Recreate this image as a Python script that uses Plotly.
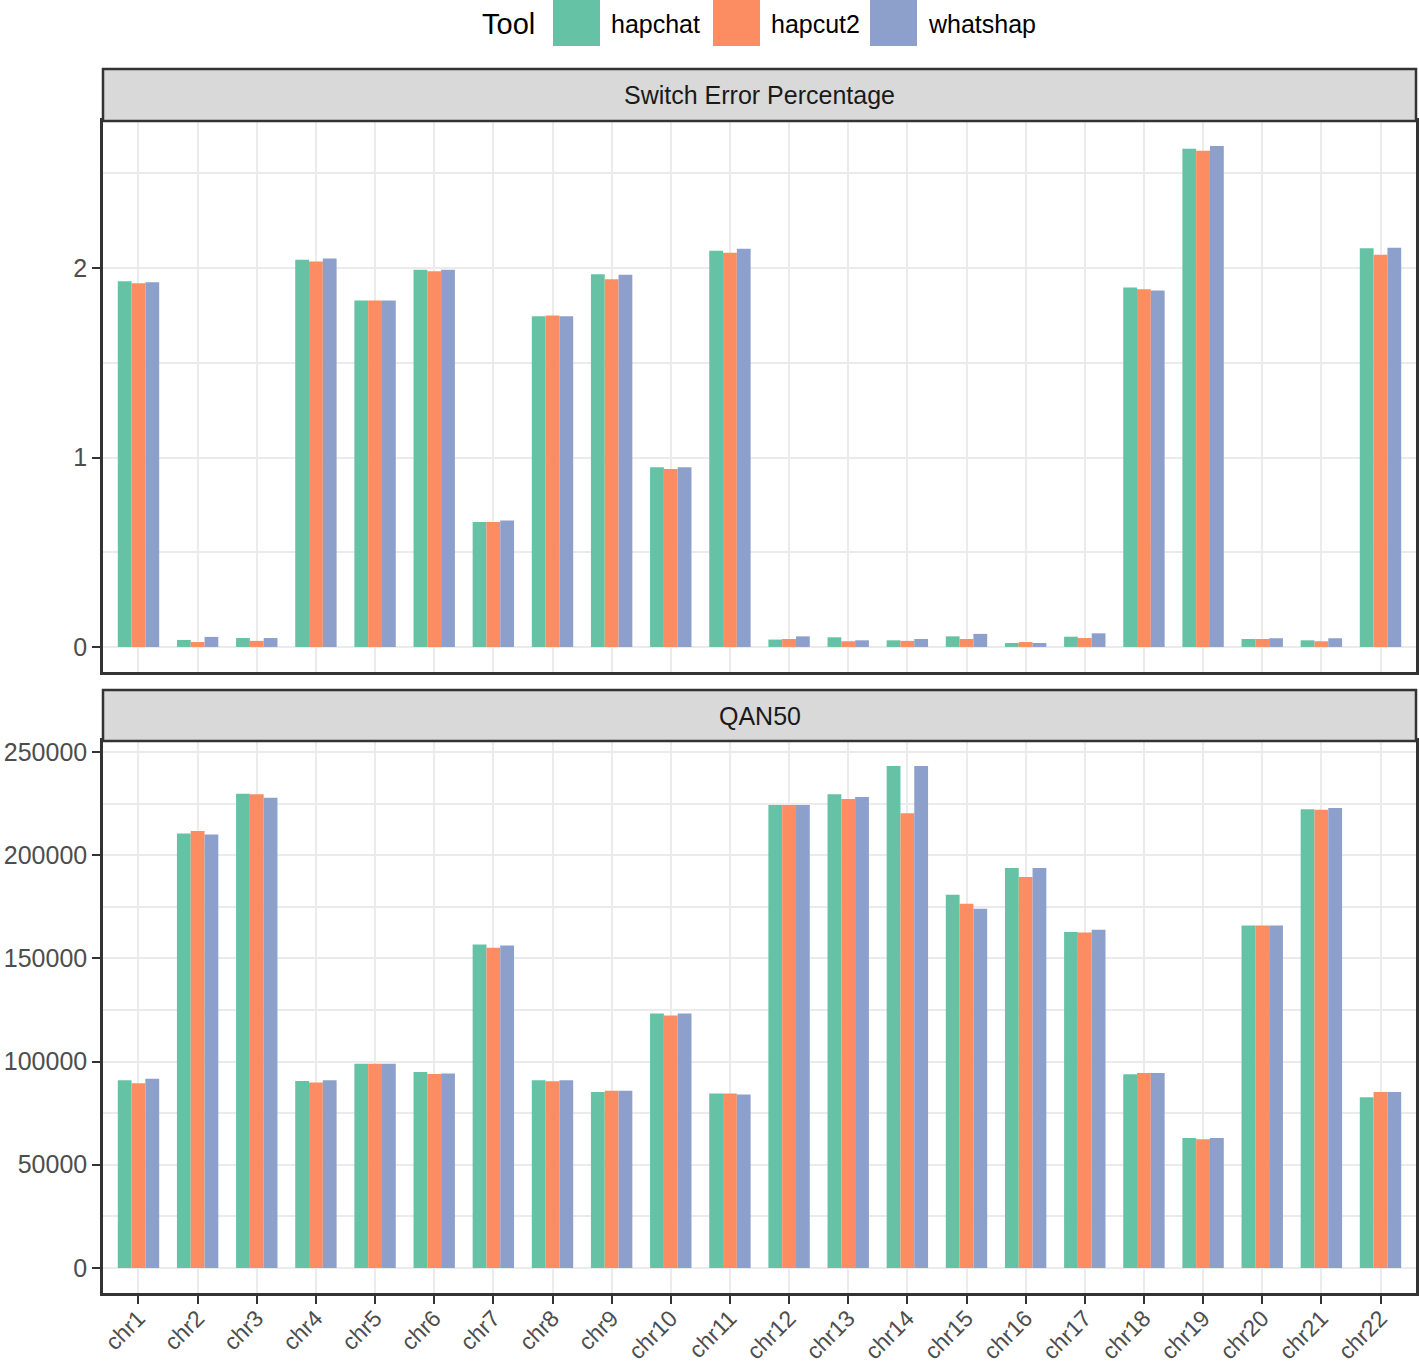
import plotly.graph_objects as go
from plotly.subplots import make_subplots

chromosomes = ["chr1", "chr2", "chr3", "chr4", "chr5", "chr6", "chr7", "chr8", "chr9", "chr10", "chr11",
               "chr12", "chr13", "chr14", "chr15", "chr16", "chr17", "chr18", "chr19", "chr20", "chr21", "chr22"]
tools = ["hapchat", "hapcut2", "whatshap"]
tool_colors = ["#66C2A5", "#FC8D62", "#8DA0CB"]

switch_hapchat = [1.930, 0.037, 0.047, 2.044, 1.829, 1.991, 0.659, 1.745, 1.967, 0.948, 2.091,
                  0.039, 0.051, 0.035, 0.056, 0.021, 0.054, 1.897, 2.630, 0.042, 0.035, 2.104]
switch_hapcut2 = [1.920, 0.026, 0.032, 2.034, 1.829, 1.983, 0.659, 1.750, 1.941, 0.939, 2.081,
                  0.042, 0.030, 0.032, 0.042, 0.026, 0.047, 1.888, 2.619, 0.042, 0.030, 2.070]
switch_whatshap = [1.925, 0.053, 0.047, 2.051, 1.829, 1.991, 0.668, 1.745, 1.965, 0.948, 2.102,
                   0.056, 0.035, 0.042, 0.069, 0.021, 0.072, 1.881, 2.644, 0.046, 0.046, 2.107]

qan50_hapchat = [91000, 210500, 229800, 90600, 99000, 94900, 156700, 91000, 85300, 123300, 84500,
                 224400, 229500, 243200, 180900, 193800, 162800, 93900, 62900, 166000, 222300, 82700]
qan50_hapcut2 = [89500, 211700, 229500, 89800, 99000, 94000, 155200, 90500, 85800, 122300, 84500,
                 224400, 227300, 220400, 176500, 189400, 162500, 94400, 62400, 166000, 222100, 85300]
qan50_whatshap = [91700, 210000, 227800, 91000, 99000, 94200, 156200, 91000, 85800, 123300, 84000,
                  224400, 228200, 243200, 174100, 193800, 163900, 94400, 62900, 166000, 222900, 85300]

panel_titles = ["Switch Error Percentage", "QAN50"]
switch_ticks = [0, 1, 2]
qan50_ticks = [0, 50000, 100000, 150000, 200000, 250000]

W, H = 1419, 1366
ML, MR, MT, MB = 103, 3, 69, 73
PW = W - ML - MR
PH = H - MT - MB


def xp(px):
    return (px - ML) / PW


def yp(py):
    return (H - MB - py) / PH


FONT = "Liberation Sans, Arial, sans-serif"
DARK = "#333333"
GRID = "#EBEBEB"

fig = make_subplots(rows=2, cols=1, vertical_spacing=0.02)

series_top = [switch_hapchat, switch_hapcut2, switch_whatshap]
series_bot = [qan50_hapchat, qan50_hapcut2, qan50_whatshap]
for name, col, top, bot in zip(tools, tool_colors, series_top, series_bot):
    fig.add_trace(go.Bar(x=chromosomes, y=top, name=name, marker=dict(color=col, line=dict(width=0)),
                         showlegend=False), row=1, col=1)
    fig.add_trace(go.Bar(x=chromosomes, y=bot, name=name, marker=dict(color=col, line=dict(width=0)),
                         showlegend=False), row=2, col=1)

top_max = max(max(s) for s in series_top)
bot_max = max(max(s) for s in series_bot)

top_dom = [yp(672), yp(121)]
bot_dom = [0, yp(741)]

common_x = dict(type="category", categoryorder="array", categoryarray=chromosomes,
                range=[-0.6, len(chromosomes) - 0.4], showgrid=True, gridcolor=GRID, gridwidth=2,
                showline=True, mirror=True, linecolor=DARK, linewidth=2.5, zeroline=False,
                automargin=False)
fig.update_xaxes(**common_x)
fig.update_xaxes(showticklabels=False, ticks="", row=1, col=1)
fig.update_xaxes(ticks="outside", ticklen=8, tickwidth=2, tickcolor=DARK, tickangle=-45,
                 ticklabelstandoff=-8,
                 tickfont=dict(family=FONT, size=23, color="#4D4D4D"), row=2, col=1)

common_y = dict(showgrid=True, gridcolor=GRID, gridwidth=2, showline=True, mirror=True,
                linecolor=DARK, linewidth=2.5, zeroline=False, ticks="outside", ticklen=8,
                tickwidth=2, tickcolor=DARK, tickfont=dict(family=FONT, size=25, color="#4D4D4D"),
                automargin=False)
fig.update_yaxes(**common_y)
fig.update_yaxes(domain=top_dom, range=[-0.05 * top_max, 1.05 * top_max],
                 tickvals=switch_ticks, ticktext=[str(v) for v in switch_ticks],
                 minor=dict(dtick=0.5, tick0=0, showgrid=True, gridcolor=GRID, gridwidth=1.5, ticks=""),
                 row=1, col=1)
fig.update_yaxes(domain=bot_dom, range=[-0.05 * bot_max, 1.05 * bot_max],
                 tickvals=qan50_ticks, ticktext=[str(v) for v in qan50_ticks],
                 minor=dict(dtick=25000, tick0=0, showgrid=True, gridcolor=GRID, gridwidth=1.5, ticks=""),
                 row=2, col=1)

shapes = []
annotations = []
# strips
for (top_px, bot_px), title in zip([(69, 121), (690, 741)], panel_titles):
    shapes.append(dict(type="rect", xref="paper", yref="paper", x0=0, x1=1, y0=yp(bot_px), y1=yp(top_px),
                       fillcolor="#D9D9D9", line=dict(color=DARK, width=2.5), layer="above"))
    annotations.append(dict(xref="paper", yref="paper", x=0.5, y=yp((top_px + bot_px) / 2), text=title,
                            showarrow=False, xanchor="center", yanchor="middle",
                            font=dict(family=FONT, size=25, color="#1A1A1A")))

# legend (manual, large keys like ggplot)
annotations.append(dict(xref="paper", yref="paper", x=xp(480), y=yp(24), text="Tool", showarrow=False,
                        xanchor="left", yanchor="middle", font=dict(family=FONT, size=29, color="#000000")))
key_x = [553, 713, 870]
for kx, name, col in zip(key_x, tools, tool_colors):
    shapes.append(dict(type="rect", xref="paper", yref="paper", x0=xp(kx), x1=xp(kx + 47),
                       y0=yp(46), y1=yp(0), fillcolor=col, line=dict(width=0)))
    annotations.append(dict(xref="paper", yref="paper", x=xp(kx + 56), y=yp(24), text=name,
                            showarrow=False, xanchor="left", yanchor="middle",
                            font=dict(family=FONT, size=25, color="#000000")))

fig.update_layout(
    width=W, height=H, autosize=False,
    margin=dict(l=ML, r=MR, t=MT, b=MB, pad=0, autoexpand=False),
    paper_bgcolor="white", plot_bgcolor="white",
    barmode="group", bargap=0.3, bargroupgap=0,
    shapes=shapes, annotations=annotations,
    font=dict(family=FONT),
    showlegend=False,
)

fig.write_html("out.html", config={"displayModeBar": False},
               post_script="document.body.style.margin='0px';document.body.style.overflow='hidden';")
